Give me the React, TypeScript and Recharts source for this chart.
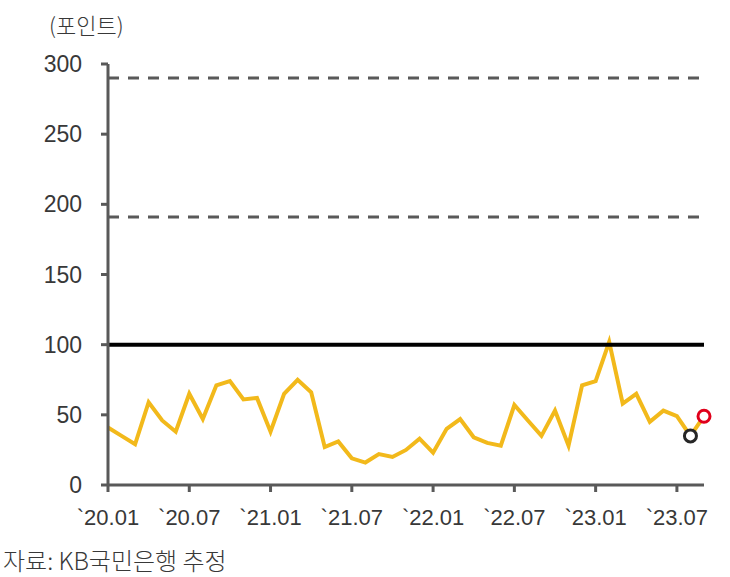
import { CartesianGrid, Line, LineChart, ReferenceLine, XAxis, YAxis } from "recharts";

const months = [
  "`20.01", "`20.02", "`20.03", "`20.04", "`20.05", "`20.06", "`20.07", "`20.08", "`20.09", "`20.10", "`20.11", "`20.12",
  "`21.01", "`21.02", "`21.03", "`21.04", "`21.05", "`21.06", "`21.07", "`21.08", "`21.09", "`21.10", "`21.11", "`21.12",
  "`22.01", "`22.02", "`22.03", "`22.04", "`22.05", "`22.06", "`22.07", "`22.08", "`22.09", "`22.10", "`22.11", "`22.12",
  "`23.01", "`23.02", "`23.03", "`23.04", "`23.05", "`23.06", "`23.07", "`23.08", "`23.09",
];

const index = [
  41, 35, 29, 59, 46, 38, 65, 47, 71, 74, 61, 62,
  38, 65, 75, 66, 27, 31, 19, 16, 22, 20, 25, 33,
  23, 40, 47, 34, 30, 28, 57, 46, 35, 53, 28, 71,
  74, 102, 58, 65, 45, 53, 49, 35, 49,
];

const yTicks = [0, 50, 100, 150, 200, 250, 300];
const upperBands = [191, 290];
const baseline = 100;

const AXIS = "#595959";
const LINE = "#f2b91b";
const TEXT = "#383838";
const FONT = "'Liberation Sans', 'Noto Sans CJK KR', sans-serif";
const KFONT = "'Noto Sans CJK KR', sans-serif";

const data = months.map((m, i) => ({ m, v: index[i] }));

// last two months get open markers (black = latest actual, red = estimate)
function EndDot(props: any) {
  const { cx, cy, index: i } = props;
  if (i === index.length - 2)
    return <circle key={i} cx={cx} cy={cy} r={6} fill="#fff" stroke="#262626" strokeWidth={3} />;
  if (i === index.length - 1)
    return <circle key={i} cx={cx} cy={cy} r={6} fill="#fff" stroke="#e0001b" strokeWidth={3} />;
  return <g key={i} />;
}

export default function App() {
  return (
    <div style={{ position: "absolute", left: 0, top: 0, width: 730, height: 577, background: "#fff" }}>
      <div style={{ position: "absolute", left: 49, top: 8, fontFamily: KFONT, fontSize: 22, color: TEXT, fontWeight: 300 }}>
        (포인트)
      </div>
      <LineChart width={730} height={577} data={data} margin={{ top: 64, right: 26, bottom: 52, left: 0 }}>
        <CartesianGrid vertical={false} horizontal={false} />
        <XAxis
          dataKey="m"
          interval={5}
          height={40}
          stroke={AXIS}
          strokeWidth={3}
          tickSize={7}
          tickMargin={17}
          tick={{ fontSize: 22, fill: TEXT, fontFamily: FONT }}
        />
        <YAxis
          domain={[0, 300]}
          ticks={yTicks}
          width={108}
          stroke={AXIS}
          strokeWidth={3}
          tickSize={7}
          tickMargin={19}
          tick={{ fontSize: 23, fill: TEXT, fontFamily: FONT }}
        />
        {upperBands.map((y) => (
          <ReferenceLine key={y} y={y} stroke={AXIS} strokeWidth={3} strokeDasharray="11 9" />
        ))}
        <Line
          dataKey="v"
          stroke={LINE}
          strokeWidth={4}
          dot={<EndDot />}
          activeDot={false}
          isAnimationActive={false}
        />
        <ReferenceLine y={baseline} stroke="#000" strokeWidth={4} />
      </LineChart>
      <div style={{ position: "absolute", left: 3, top: 542, fontFamily: KFONT, fontSize: 24, color: TEXT, fontWeight: 300 }}>
        자료: KB국민은행 추정
      </div>
    </div>
  );
}
